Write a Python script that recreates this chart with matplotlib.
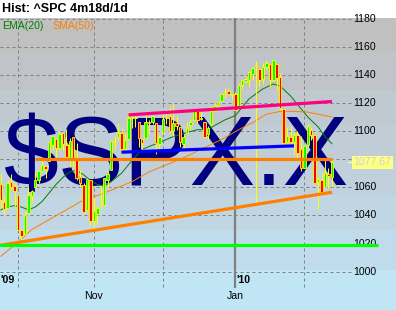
import matplotlib
matplotlib.use("Agg")
import matplotlib.pyplot as plt

# daily bars, ^SPC, 2009-09-24 .. 2010-02-11
dates = ["09-24", "09-25", "09-28", "09-29", "09-30",
         "10-01", "10-02", "10-05", "10-06", "10-07", "10-08", "10-09", "10-12", "10-13", "10-14", "10-15",
         "10-16", "10-19", "10-20", "10-21", "10-22", "10-23", "10-26", "10-27", "10-28", "10-29", "10-30",
         "11-02", "11-03", "11-04", "11-05", "11-06", "11-09", "11-10", "11-11", "11-12", "11-13", "11-16",
         "11-17", "11-18", "11-19", "11-20", "11-23", "11-24", "11-25", "11-27", "11-30",
         "12-01", "12-02", "12-03", "12-04", "12-07", "12-08", "12-09", "12-10", "12-11", "12-14", "12-15",
         "12-16", "12-17", "12-18", "12-21", "12-22", "12-23", "12-24", "12-28", "12-29", "12-30", "12-31",
         "01-04", "01-05", "01-06", "01-07", "01-08", "01-11", "01-12", "01-13", "01-14", "01-15", "01-19",
         "01-20", "01-21", "01-22", "01-25", "01-26", "01-27", "01-28", "01-29",
         "02-01", "02-02", "02-03", "02-04", "02-05", "02-08", "02-09", "02-10", "02-11"]
opens = [1062.6, 1049.5, 1045.4, 1063.7, 1061.0,
         1054.9, 1029.7, 1026.9, 1042.0, 1053.7, 1060.0, 1065.3, 1071.6, 1075.0, 1078.7, 1090.4,
         1094.7, 1088.2, 1098.6, 1090.4, 1081.0, 1095.6, 1080.4, 1067.5, 1061.5, 1043.7, 1065.4,
         1036.2, 1040.9, 1047.3, 1047.3, 1065.0, 1072.3, 1091.9, 1096.0, 1098.3, 1087.6, 1094.1,
         1109.2, 1109.4, 1106.4, 1094.7, 1094.9, 1105.8, 1106.5, 1105.5, 1091.1,
         1098.9, 1109.0, 1110.6, 1100.4, 1105.5, 1103.0, 1091.1, 1098.7, 1104.0, 1107.8, 1114.1,
         1108.6, 1106.4, 1097.9, 1105.3, 1114.5, 1118.8, 1121.1, 1127.5, 1128.6, 1125.5, 1126.6,
         1116.6, 1132.7, 1135.7, 1136.3, 1140.5, 1146.0, 1143.8, 1137.3, 1145.7, 1147.7, 1136.0,
         1148.0, 1138.7, 1115.5, 1092.4, 1095.8, 1091.9, 1096.9, 1087.6,
         1073.9, 1090.1, 1100.7, 1097.3, 1064.1, 1065.5, 1060.1, 1069.7, 1067.1]
highs = [1069.6, 1053.5, 1065.1, 1069.6, 1063.4,
         1054.9, 1030.6, 1042.6, 1060.6, 1058.0, 1070.7, 1071.5, 1079.5, 1075.3, 1093.2, 1096.6,
         1094.7, 1100.2, 1098.6, 1101.4, 1095.2, 1095.8, 1091.8, 1072.5, 1063.3, 1066.8, 1065.4,
         1052.2, 1046.4, 1061.0, 1066.7, 1071.5, 1093.2, 1096.4, 1105.4, 1102.0, 1097.8, 1113.7,
         1110.5, 1111.1, 1106.4, 1094.7, 1112.4, 1107.6, 1111.2, 1105.5, 1097.2,
         1112.3, 1115.6, 1117.3, 1119.1, 1110.7, 1103.0, 1097.0, 1106.3, 1108.5, 1114.8, 1114.1,
         1116.2, 1106.4, 1103.7, 1117.7, 1120.3, 1121.6, 1126.5, 1130.4, 1130.4, 1126.4, 1127.6,
         1133.9, 1136.6, 1139.2, 1142.5, 1145.4, 1149.7, 1143.8, 1148.4, 1150.4, 1147.8, 1150.5,
         1148.0, 1141.6, 1115.5, 1103.0, 1103.7, 1099.5, 1100.2, 1096.5,
         1089.4, 1104.7, 1102.7, 1097.3, 1067.1, 1071.2, 1079.3, 1073.7, 1080.0]
lows = [1045.4, 1041.2, 1045.4, 1057.8, 1046.5,
        1029.5, 1020.0, 1025.9, 1042.0, 1050.1, 1060.0, 1063.0, 1071.6, 1066.7, 1078.7, 1086.4,
        1081.5, 1086.5, 1086.2, 1080.8, 1074.3, 1075.5, 1065.2, 1060.6, 1042.2, 1043.7, 1033.4,
        1029.4, 1033.9, 1045.2, 1047.3, 1059.3, 1072.3, 1087.4, 1093.8, 1084.9, 1085.3, 1094.1,
        1102.2, 1102.7, 1088.4, 1086.8, 1094.9, 1097.6, 1104.8, 1083.7, 1086.3,
        1098.9, 1105.3, 1098.7, 1096.5, 1100.8, 1088.6, 1085.9, 1098.7, 1101.3, 1107.8, 1105.4,
        1108.0, 1095.9, 1093.9, 1105.3, 1114.5, 1116.0, 1121.1, 1123.5, 1126.1, 1121.9, 1114.8,
        1116.6, 1129.7, 1134.0, 1131.3, 1136.2, 1049.0, 1131.8, 1133.2, 1143.8, 1131.4, 1135.8,
        1129.3, 1114.8, 1090.2, 1092.4, 1089.9, 1083.1, 1078.5, 1071.6,
        1073.9, 1088.0, 1094.0, 1062.8, 1044.5, 1056.5, 1060.1, 1059.3, 1060.6]
closes = [1050.8, 1044.4, 1063.0, 1060.6, 1057.1,
          1029.9, 1025.2, 1040.5, 1054.7, 1057.6, 1065.5, 1071.5, 1076.2, 1073.2, 1092.0, 1096.6,
          1087.7, 1097.9, 1091.1, 1081.4, 1092.9, 1079.6, 1067.0, 1063.4, 1042.6, 1066.1, 1036.2,
          1042.9, 1045.4, 1046.5, 1066.6, 1069.3, 1093.1, 1093.0, 1098.5, 1087.2, 1093.5, 1109.3,
          1110.3, 1109.8, 1094.9, 1091.4, 1106.2, 1105.7, 1110.6, 1091.5, 1095.6,
          1108.9, 1109.2, 1099.9, 1106.0, 1103.3, 1091.9, 1096.0, 1102.4, 1106.4, 1114.1, 1107.9,
          1109.2, 1096.1, 1102.5, 1114.1, 1118.0, 1120.6, 1126.5, 1127.8, 1126.2, 1126.4, 1115.1,
          1133.0, 1136.5, 1137.1, 1141.7, 1145.0, 1147.0, 1136.2, 1145.7, 1148.5, 1136.0, 1150.2,
          1138.0, 1116.5, 1091.8, 1096.8, 1092.2, 1097.5, 1084.5, 1073.9,
          1089.2, 1103.3, 1097.3, 1063.1, 1066.2, 1056.7, 1070.5, 1068.1, 1077.67]

# EMA(20) / SMA(50) (bar index, value)
ema_idx = [0, 2, 4, 6, 8, 10, 12, 14, 16, 18, 20, 22, 24, 26, 28, 30, 32, 35, 38, 41, 44,
           47, 50, 54, 57, 60, 62, 65, 68, 72, 76, 79, 81, 84, 87, 89, 92, 94, 96]
ema_val = [1044, 1046, 1047, 1046, 1044, 1046, 1050, 1056, 1062, 1067, 1071, 1072, 1069, 1065, 1062, 1061, 1064, 1070, 1079, 1087, 1090,
           1093, 1096, 1099, 1101, 1101, 1104, 1108, 1111, 1123, 1130, 1133.5, 1132, 1125, 1116, 1110, 1103, 1096, 1091]
sma_idx = [0, 5, 9, 14, 19, 24, 29, 34, 38, 43, 48, 53, 58, 64, 69, 73, 77, 81, 85, 89, 92, 96]
sma_val = [1011, 1021, 1030, 1037, 1044, 1051, 1055, 1060, 1064, 1071, 1076, 1081, 1087, 1094, 1101, 1106, 1112, 1114, 1114, 1113.5, 1112, 1110]

# drawn trendlines (start idx, end idx, start value, end value)
pink_line = [37, 96, 1111.5, 1121]
blue_line = [35, 85, 1085, 1089.5]
orange_flat = [10, 96, 1080, 1080]
orange_rise = [-0.2, 96, 1018.8, 1056.5]
green_flat = [-0.3, 109.3, 1019, 1019]

month_idx = [5, 27, 47, 68, 88]
y_ticks = [1000, 1020, 1040, 1060, 1080, 1100, 1120, 1140, 1160, 1180]
last_price = 1077.67

fig = plt.figure(figsize=(3.96, 3.10), dpi=100)
ax = fig.add_axes([0, 0, 1, 292 / 310])
ax.set_xlim(-0.22, 114.57)
ax.set_ylim(972.8, 1180.4)
ax.axis("off")

# stepped background, gray at top to pale blue at bottom
bands = [1180.4, 1156.5, 1129.4, 1104.6, 1079.7, 1054.8, 1029.9, 1001.4, 972.8]
band_cols = ["#c0c0c0", "#c0c4c8", "#c0c8d0", "#c0ccd6", "#c0d0dc", "#c0d6e2", "#c0dcec", "#c0e6f6"]
for k in range(len(band_cols)):
    ax.axhspan(bands[k + 1], bands[k], color=band_cols[k], lw=0, zorder=0)

gkw = dict(color="#808080", lw=0.72, linestyle=(0, (3, 3)), zorder=1)
for v in y_ticks:
    ax.plot([-0.3, 101.8], [v, v], **gkw)
    # the 1080 label sits under the last-price box
    if abs(v - last_price) > 8:
        ax.text(102.1, v, str(v), fontsize=7.6, family="Liberation Sans", va="center", ha="left", zorder=2)
for m in month_idx:
    if m == 68:
        ax.plot([m, m], [989.3, 1181], color="#808080", lw=1.6, zorder=1)
    else:
        ax.plot([m, m], [989.3, 1181], **gkw)

ax.text(0.9, 1061.9, "$SPX.X", fontsize=71, family="Liberation Sans", color="#000080",
        va="baseline", ha="left", zorder=2)

ax.plot(ema_idx, ema_val, color="#008000", lw=0.7, zorder=3)
ax.plot(sma_idx, sma_val, color="#ff8000", lw=0.7, zorder=3)

# candles
for i in range(len(closes)):
    o, h, l, c = opens[i], highs[i], lows[i], closes[i]
    ax.vlines(i, l, h, color="#ffff00", lw=0.75, zorder=4)
    col = "#00ff00" if c >= o else "#ff0000"
    ax.bar(i, max(abs(c - o), 0.6), 0.72, bottom=min(o, c), color=col,
           edgecolor="#ffff00", linewidth=0.6, zorder=5)

for ln, col in [(pink_line, "#ff0080"), (blue_line, "#0000ff"), (orange_flat, "#ff8000"),
                (orange_rise, "#ff8000"), (green_flat, "#00ff00")]:
    ax.plot(ln[:2], ln[2:], color=col, lw=2.3, solid_capstyle="butt", zorder=6)

# last price marker
ax.plot([100.6, 102.1], [last_price, last_price], color="#ffff80", lw=1, zorder=6)
ax.text(102.3, last_price, f"{last_price:.2f}", fontsize=7.6, family="Liberation Sans", color="#c8d0e0",
        va="center", ha="left", zorder=7,
        bbox=dict(boxstyle="square,pad=0.12", fc="#ffff80", ec="none"))

# x labels
ax.text(-0.1, 994.3, "'09", fontsize=7.6, fontweight="bold", family="Liberation Sans", va="center", ha="left")
ax.text(68.3, 994.3, "'10", fontsize=7.6, fontweight="bold", family="Liberation Sans", va="center", ha="left")
ax.text(27, 982.5, "Nov", fontsize=7.6, family="Liberation Sans", va="center", ha="center")
ax.text(68, 982.5, "Jan", fontsize=7.6, family="Liberation Sans", va="center", ha="center")

# legend and title
ax.text(0.4, 1174.5, "EMA(20)", fontsize=7.6, family="Liberation Sans", color="#008000", va="center", ha="left")
ax.text(14.9, 1174.5, "SMA(50)", fontsize=7.6, family="Liberation Sans", color="#ff8000", va="center", ha="left")
fig.text(0.005, 1 - 8.5 / 310, "Hist: ^SPC 4m18d/1d", fontsize=9, fontweight="bold",
         family="Liberation Sans", va="center", ha="left")

fig.savefig("out.png", dpi=100)
